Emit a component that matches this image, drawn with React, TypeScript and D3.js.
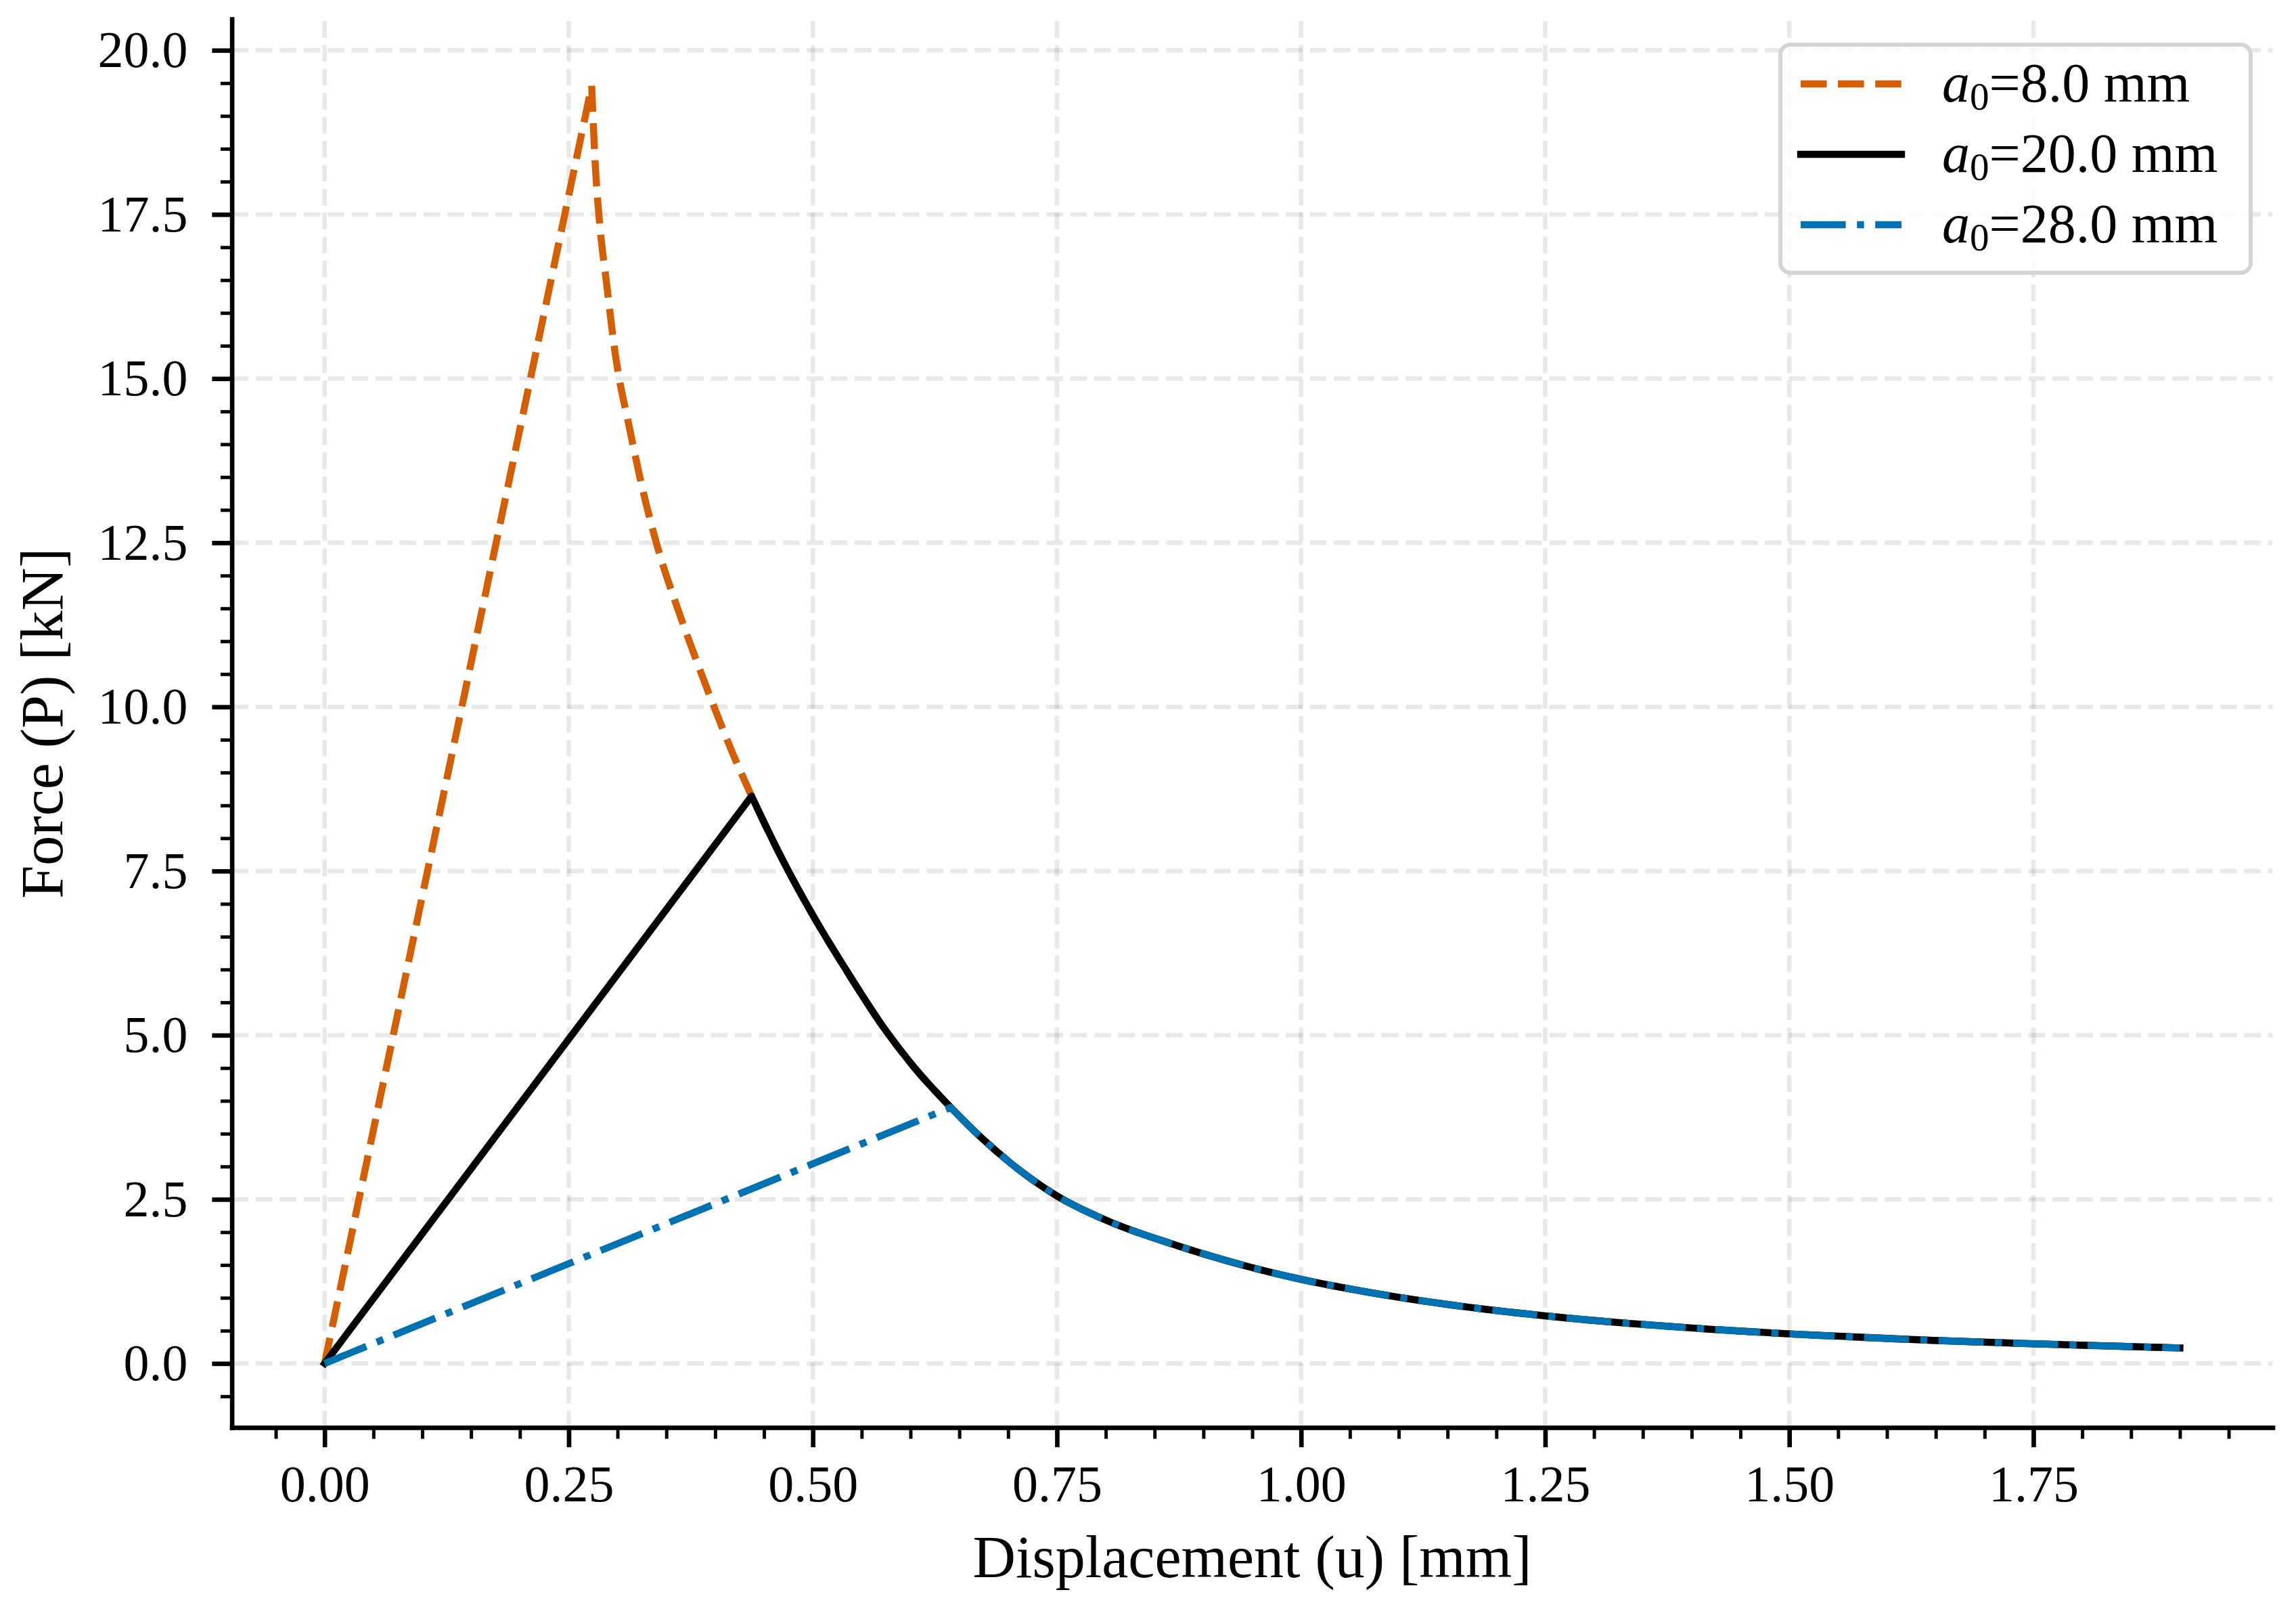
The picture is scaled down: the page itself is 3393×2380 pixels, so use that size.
import { useEffect, useRef } from "react";
import * as d3 from "d3";

// Softening envelope shared by every specimen (u in mm, P in kN)
const envelopeU = [
  0.2735, 0.2774, 0.2809, 0.289, 0.2982, 0.3017, 0.3098, 0.3259, 0.3397, 0.3629,
  0.386, 0.3999, 0.4183, 0.4373, 0.468, 0.5003, 0.5338, 0.5742, 0.6032, 0.6412,
  0.6717, 0.7035, 0.7502, 0.8021, 0.8721, 0.942, 1.0003, 1.069, 1.123, 1.159,
  1.25, 1.336, 1.417, 1.5, 1.643, 1.75, 1.9,
];
const envelopeP = [
  19.46, 18.2, 17.49, 16.42, 15.32, 15.0, 14.42, 13.3, 12.5, 11.44,
  10.5, 9.96, 9.28, 8.64, 7.7, 6.82, 6.0, 5.08, 4.52, 3.9,
  3.45, 3.04, 2.55, 2.17, 1.8, 1.49, 1.28, 1.085, 0.955, 0.88,
  0.725, 0.61, 0.523, 0.45, 0.354, 0.3, 0.237,
];

// Initial crack lengths and where each one's loading line meets the envelope
const crackLengths = ["8.0", "20.0", "28.0"];
const peakIndex = [0, 13, 19];
const lineColors = ["#D55E00", "#000000", "#0072B2"];
const lineDashes = ["38.5,16.6", "", "66.6,16.6,10.4,16.6"];

const xTicks = [0, 0.25, 0.5, 0.75, 1.0, 1.25, 1.5, 1.75];
const yTicks = [0, 2.5, 5, 7.5, 10, 12.5, 15, 17.5, 20];

export default function App() {
  const svgRef = useRef<SVGSVGElement>(null);
  const width = 3393;
  const height = 2380;

  useEffect(() => {
    if (!svgRef.current) return;
    const svg = d3.select(svgRef.current);
    svg.selectAll("*").remove();

    const margin = { top: 28.2, right: 34.5, bottom: 271.1, left: 342.6 };
    const font = "'Liberation Serif', 'Times New Roman', serif";

    const x = d3
      .scaleLinear()
      .domain([-0.095, 1.995])
      .range([margin.left, width - margin.right]);
    const y = d3
      .scaleLinear()
      .domain([-0.975, 20.475])
      .range([height - margin.bottom, margin.top]);

    const [x0, x1] = x.range();
    const [y0, y1] = y.range();

    // Grid
    const grid = svg
      .append("g")
      .attr("stroke", "#000")
      .attr("stroke-opacity", 0.085)
      .attr("stroke-width", 6.67)
      .attr("stroke-dasharray", "24.7,10.7");
    grid
      .selectAll(".gx")
      .data(xTicks)
      .join("line")
      .attr("class", "gx")
      .attr("x1", (d) => x(d))
      .attr("x2", (d) => x(d))
      .attr("y1", y0)
      .attr("y2", y1);
    grid
      .selectAll(".gy")
      .data(yTicks)
      .join("line")
      .attr("class", "gy")
      .attr("x1", x0)
      .attr("x2", x1)
      .attr("y1", (d) => y(d))
      .attr("y2", (d) => y(d));

    // Curves: straight loading line to the peak, then the smooth shared envelope
    const envLine = d3
      .line<[number, number]>()
      .x((d) => x(d[0]))
      .y((d) => y(d[1]))
      .curve(d3.curveMonotoneX);

    crackLengths.forEach((_, i) => {
      const pts: [number, number][] = [];
      for (let k = peakIndex[i]; k < envelopeU.length; k++) {
        pts.push([envelopeU[k], envelopeP[k]]);
      }
      const env = envLine(pts) || "";
      const d = `M${x(0)},${y(0)}L${env.slice(1)}`;
      svg
        .append("path")
        .attr("d", d)
        .attr("fill", "none")
        .attr("stroke", lineColors[i])
        .attr("stroke-width", 10.4)
        .attr("stroke-linejoin", "round")
        .attr("stroke-linecap", lineDashes[i] ? "butt" : "square")
        .attr("stroke-dasharray", lineDashes[i] || null);
    });

    // Minor ticks
    const isMajor = (v: number, arr: number[]) => arr.some((t) => Math.abs(t - v) < 1e-6);
    const xMinor = d3.range(-1, 40).map((k) => k * 0.05).filter((v) => !isMajor(v, xTicks));
    const yMinor = d3.range(-1, 41).map((k) => k * 0.5).filter((v) => !isMajor(v, yTicks));

    svg
      .append("g")
      .attr("transform", `translate(0,${y0})`)
      .call(d3.axisBottom(x).tickValues(xMinor).tickSize(16.7).tickFormat(() => ""))
      .call((g) => g.select(".domain").remove())
      .call((g) => g.selectAll(".tick line").attr("stroke", "#000").attr("stroke-width", 5));

    svg
      .append("g")
      .attr("transform", `translate(${x0},0)`)
      .call(d3.axisLeft(y).tickValues(yMinor).tickSize(16.7).tickFormat(() => ""))
      .call((g) => g.select(".domain").remove())
      .call((g) => g.selectAll(".tick line").attr("stroke", "#000").attr("stroke-width", 5));

    // Major axes
    const xAxis = svg
      .append("g")
      .attr("transform", `translate(0,${y0})`)
      .call(
        d3
          .axisBottom(x)
          .tickValues(xTicks)
          .tickSize(29.2)
          .tickSizeOuter(0)
          .tickPadding(26)
          .tickFormat(d3.format(".2f") as any)
      );
    const yAxis = svg
      .append("g")
      .attr("transform", `translate(${x0},0)`)
      .call(
        d3
          .axisLeft(y)
          .tickValues(yTicks)
          .tickSize(29.2)
          .tickSizeOuter(0)
          .tickPadding(36)
          .tickFormat(d3.format(".1f") as any)
      );

    [xAxis, yAxis].forEach((g) => {
      g.attr("font-family", font).attr("font-size", 76);
      g.select(".domain")
        .attr("stroke", "#000")
        .attr("stroke-width", 6.67)
        .attr("stroke-linecap", "square");
      g.selectAll(".tick line").attr("stroke", "#000").attr("stroke-width", 6.67);
      g.selectAll(".tick text").attr("fill", "#000");
    });

    // Axis labels
    svg
      .append("text")
      .attr("x", (x0 + x1) / 2)
      .attr("y", 2330)
      .attr("text-anchor", "middle")
      .attr("font-family", font)
      .attr("font-size", 88)
      .text("Displacement (u) [mm]");

    svg
      .append("text")
      .attr("transform", `translate(92,${(y0 + y1) / 2}) rotate(-90)`)
      .attr("text-anchor", "middle")
      .attr("font-family", font)
      .attr("font-size", 88)
      .text("Force (P) [kN]");

    // Legend
    const legend = svg.append("g");
    legend
      .append("rect")
      .attr("x", 2631)
      .attr("y", 66)
      .attr("width", 695)
      .attr("height", 337)
      .attr("rx", 15)
      .attr("fill", "#fff")
      .attr("fill-opacity", 0.8)
      .attr("stroke", "#d4d4d4")
      .attr("stroke-width", 6);

    const rowY = [124, 228, 332];
    crackLengths.forEach((a0, i) => {
      legend
        .append("line")
        .attr("x1", 2661)
        .attr("x2", 2810)
        .attr("y1", rowY[i])
        .attr("y2", rowY[i])
        .attr("stroke", lineColors[i])
        .attr("stroke-width", 10.4)
        .attr("stroke-linecap", lineDashes[i] ? "butt" : "square")
        .attr("stroke-dasharray", lineDashes[i] || null);

      const t = legend
        .append("text")
        .attr("x", 2870)
        .attr("y", rowY[i] + 26)
        .attr("font-family", font)
        .attr("font-size", 82);
      t.append("tspan").attr("font-style", "italic").text("a");
      t.append("tspan").attr("font-size", 57).attr("dy", 12).text("0");
      t.append("tspan").attr("dy", -12).text(`=${a0} mm`);
    });
  }, []);

  return (
    <div style={{ position: "absolute", left: 0, top: 0, background: "#fff" }}>
      <svg ref={svgRef} width={width} height={height} style={{ display: "block" }} />
    </div>
  );
}
